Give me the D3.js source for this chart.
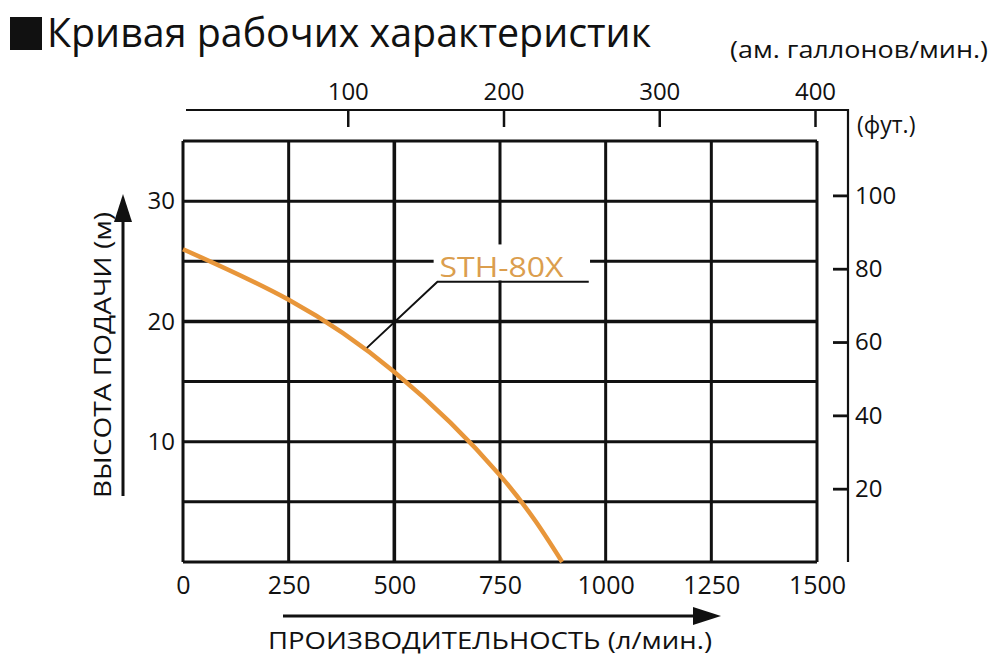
<!DOCTYPE html>
<html>
<head>
<meta charset="utf-8">
<script src="https://cdn.jsdelivr.net/npm/d3@7"></script>
<style>
  body { margin: 0; background: #fff; }
  text { font-family: 'Open Sans', 'Noto Sans', sans-serif; fill: #111; }
</style>
</head>
<body>
<div id="chart"></div>
<script>
// performance curve of the pump
var flow = [0, 250, 500, 750, 897];          // л/мин
var head = [26, 21.8, 15.8, 7.2, 0];         // м
var flowTicks = [0, 250, 500, 750, 1000, 1250, 1500];
var headTicks = [10, 20, 30];
var gallonTicks = [100, 200, 300, 400];
var feetTicks = [20, 40, 60, 80, 100];
var modelName = 'STH-80X';

var data = flow.map(function(f, i) { return {q: f, h: head[i]}; });

var fullWidth = 1000;
var fullHeight = 669;

var svg = d3.select('#chart').append('svg')
  .attr('width', fullWidth)
  .attr('height', fullHeight);

// main scales of the grid
var x = d3.scaleLinear().domain([0, 1500]).range([183, 817]);
var y = d3.scaleLinear().domain([0, 35]).range([562, 141]);
// secondary scales: US gallons on top, feet on the right
var xGal = d3.scaleLinear().domain([0, 400]).range([192, 815]);
var yFt = d3.scaleLinear().domain([0, 35 * 3.281]).range([562, 141]);

var topY = 110;
var rightX = 848;
var fmt = d3.format('d');

// title
svg.append('rect')
  .attr('x', 10).attr('y', 17).attr('width', 32).attr('height', 33)
  .attr('fill', '#111');
svg.append('text')
  .attr('x', 47).attr('y', 47)
  .style('font-size', '41px')
  .attr('textLength', 604)
  .attr('lengthAdjust', 'spacingAndGlyphs')
  .text('Кривая рабочих характеристик');

// grid
var grid = svg.append('g').classed('grid', true);
grid.selectAll('line.v')
    .data(d3.range(0, 1501, 250))
  .enter().append('line')
    .classed('v', true)
    .attr('x1', function(d) { return x(d); })
    .attr('x2', function(d) { return x(d); })
    .attr('y1', y(0)).attr('y2', y(35))
    .attr('stroke', '#111')
    .attr('stroke-width', function(d) { return d === 500 ? 3.6 : 3; });
grid.selectAll('line.h')
    .data(d3.range(0, 36, 5))
  .enter().append('line')
    .classed('h', true)
    .attr('x1', x(0)).attr('x2', x(1500))
    .attr('y1', function(d) { return y(d); })
    .attr('y2', function(d) { return y(d); })
    .attr('stroke', '#111')
    .attr('stroke-width', function(d) { return d === 20 ? 3.6 : 3; });

// left axis (m)
var yAxis = d3.axisLeft(y).tickValues(headTicks).tickFormat(fmt).tickSize(0).tickPadding(8);
svg.append('g')
  .attr('transform', 'translate(' + x(0) + ',0)')
  .call(yAxis)
  .call(function(g) { g.select('.domain').remove(); })
  .selectAll('text')
    .style('font-size', '24px')
    .attr('fill', '#111');

// bottom axis (л/мин)
var xAxis = d3.axisBottom(x).tickValues(flowTicks).tickFormat(fmt).tickSize(0).tickPadding(14);
svg.append('g')
  .attr('transform', 'translate(0,' + y(0) + ')')
  .call(xAxis)
  .call(function(g) { g.select('.domain').remove(); })
  .selectAll('text')
    .style('font-size', '25px')
    .attr('fill', '#111');

// top axis (gallons) with the frame going down the right side
svg.append('path')
  .attr('d', 'M' + (x(0) + 3) + ',' + topY + 'H' + rightX + 'V' + y(0))
  .attr('fill', 'none')
  .attr('stroke', '#111')
  .attr('stroke-width', 2.2);

var galAxis = d3.axisTop(xGal).tickValues(gallonTicks).tickFormat(fmt).tickSize(-17).tickPadding(10);
svg.append('g')
  .attr('transform', 'translate(0,' + topY + ')')
  .call(galAxis)
  .call(function(g) {
    g.select('.domain').remove();
    g.selectAll('line').attr('stroke', '#111').attr('stroke-width', 2.5);
    g.selectAll('text').style('font-size', '24px').attr('fill', '#111');
  });

var ftAxis = d3.axisRight(yFt).tickValues(feetTicks).tickFormat(fmt).tickSize(-15).tickPadding(7);
svg.append('g')
  .attr('transform', 'translate(' + rightX + ',0)')
  .call(ftAxis)
  .call(function(g) {
    g.select('.domain').remove();
    g.selectAll('line').attr('stroke', '#111').attr('stroke-width', 2.8);
    g.selectAll('text').style('font-size', '24px').attr('fill', '#111');
  });

// unit labels
svg.append('text')
  .attr('x', 988).attr('y', 58)
  .attr('text-anchor', 'end')
  .style('font-size', '23px')
  .attr('textLength', 258)
  .attr('lengthAdjust', 'spacingAndGlyphs')
  .text('(ам. галлонов/мин.)');
svg.append('text')
  .attr('x', 857).attr('y', 133)
  .style('font-size', '23px')
  .text('(фут.)');

// axis titles with arrows
svg.append('line')
  .attr('x1', 123).attr('x2', 123)
  .attr('y1', 496).attr('y2', 210)
  .attr('stroke', '#111').attr('stroke-width', 3);
svg.append('path')
  .attr('d', 'M123,194L114,222L132,222Z')
  .attr('fill', '#111');
svg.append('text')
  .attr('transform', 'translate(111,355) rotate(-90)')
  .attr('text-anchor', 'middle')
  .style('font-size', '24px')
  .attr('textLength', 286)
  .attr('lengthAdjust', 'spacingAndGlyphs')
  .text('ВЫСОТА ПОДАЧИ (м)');

svg.append('line')
  .attr('x1', 283).attr('x2', 697)
  .attr('y1', 616).attr('y2', 616)
  .attr('stroke', '#111').attr('stroke-width', 3);
svg.append('path')
  .attr('d', 'M721,616L693,607L693,625Z')
  .attr('fill', '#111');
svg.append('text')
  .attr('x', 490).attr('y', 649)
  .attr('text-anchor', 'middle')
  .style('font-size', '24px')
  .attr('textLength', 444)
  .attr('lengthAdjust', 'spacingAndGlyphs')
  .text('ПРОИЗВОДИТЕЛЬНОСТЬ (л/мин.)');

// performance curve
var line = d3.line()
  .x(function(d) { return x(d.q); })
  .y(function(d) { return y(d.h); })
  .curve(d3.curveNatural);

svg.append('path')
  .datum(data)
  .attr('d', line)
  .attr('fill', 'none')
  .attr('stroke', '#E8963A')
  .attr('stroke-width', 4.5)
  .attr('stroke-linecap', 'butt');

// model label with leader line
svg.append('rect')
  .attr('x', x(593)).attr('y', y(26.4))
  .attr('width', x(963) - x(593)).attr('height', y(23.4) - y(26.4))
  .attr('fill', '#fff');
svg.append('polyline')
  .attr('points', [
    [x(435), y(17.8)],
    [x(602), y(23.3)],
    [x(960), y(23.3)]
  ].join(' '))
  .attr('fill', 'none')
  .attr('stroke', '#111')
  .attr('stroke-width', 2);
svg.append('text')
  .attr('x', x(607)).attr('y', y(23.7))
  .style('font-size', '28px')
  .style('fill', '#DB9E4E')
  .attr('textLength', 124)
  .attr('lengthAdjust', 'spacingAndGlyphs')
  .text(modelName);
</script>
</body>
</html>
